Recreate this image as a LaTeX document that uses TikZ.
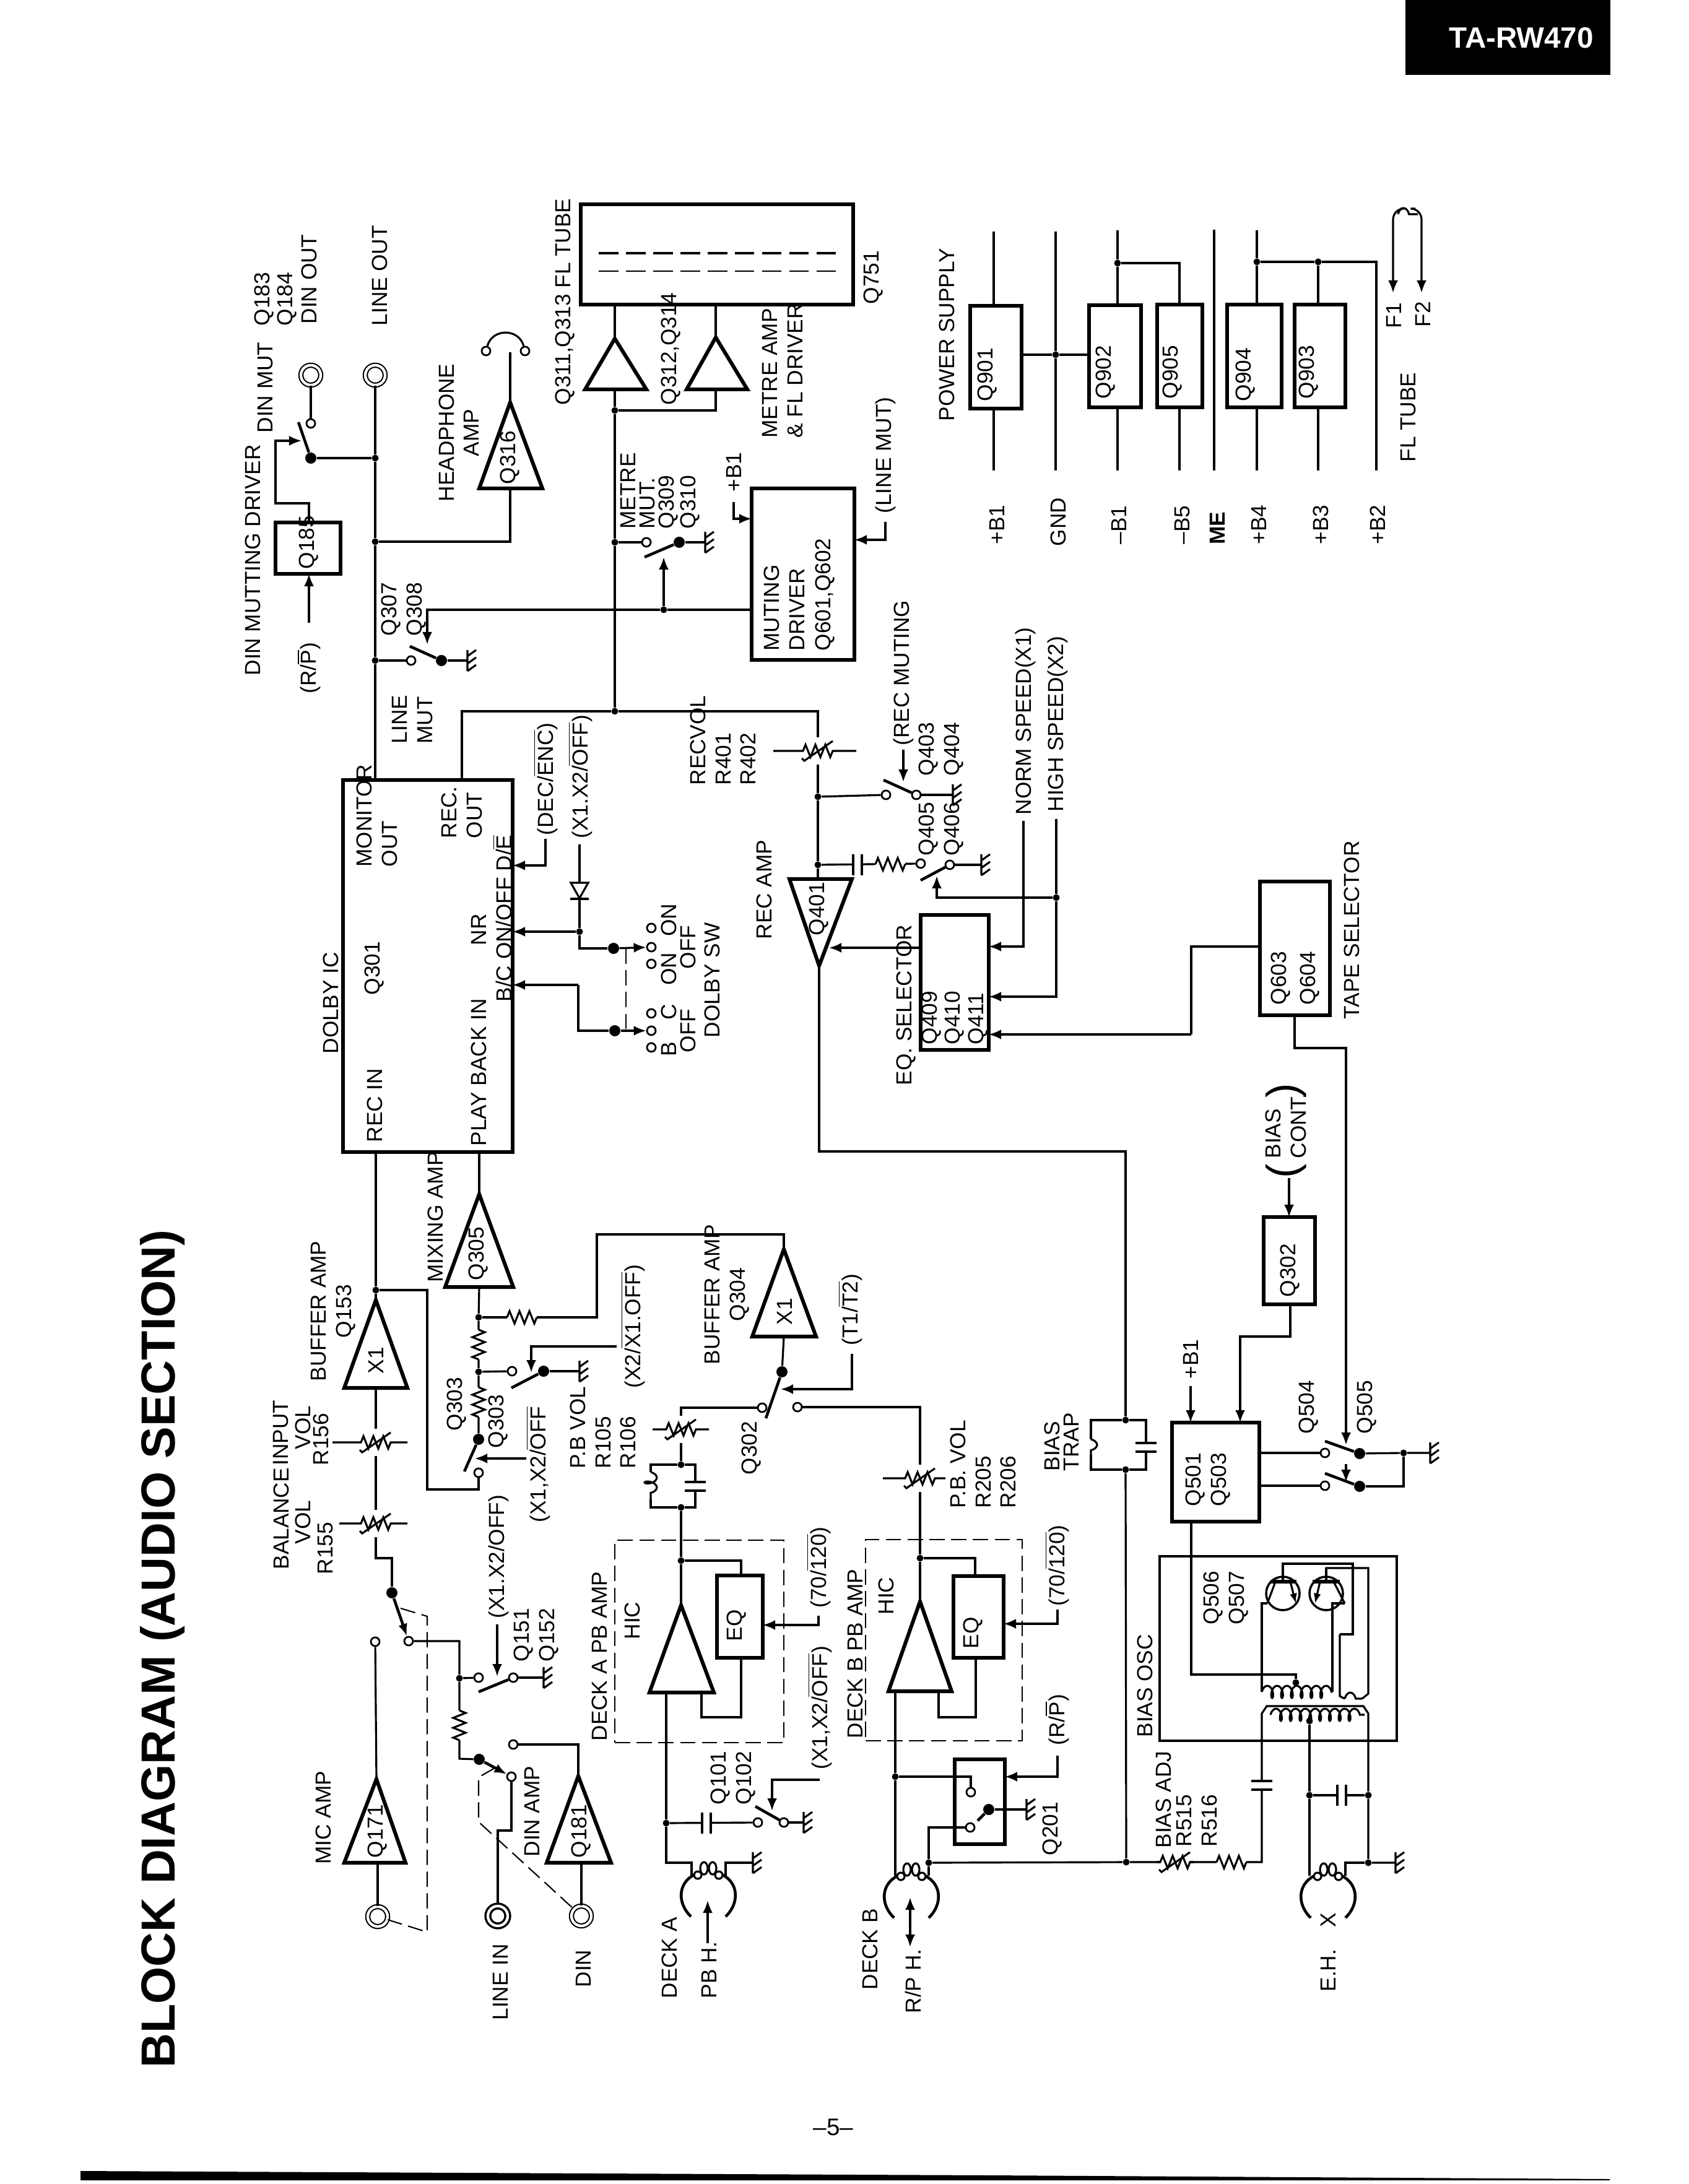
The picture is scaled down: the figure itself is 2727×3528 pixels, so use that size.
\documentclass[tikz,border=0pt]{standalone}
\usepackage{fontspec}
\setmainfont{Liberation Sans}
\usetikzlibrary{arrows.meta,fit,decorations.pathmorphing}
\newcommand{\barT}[1]{$\overline{\hbox{#1}}$}
\newcommand{\amp}[6]{\coordinate (#1) at (#2,#3); \coordinate (#1in) at (#2,#4);
  \draw[ampl] (#5,#4) -- (#2,#3) -- (#6,#4) -- cycle;}
\newcommand{\pot}[4]{\begin{scope}[shift={(#1,#2)}]
  \fill[white] (-24,-8) rectangle (24,8) (-6,-22) rectangle (6,22);
  \draw[wire] (-#3,0) -- (-24,0) -- (-20,-10) -- (-12,10) -- (-4,-10) -- (4,10) -- (12,-10) -- (20,10) -- (24,0) -- (#4,0);
  \draw[wire] (-26,12) -- (-22,16) -- (24,-16);
  \end{scope}}
\newcommand{\headsym}[3]{\begin{scope}[shift={(#2,#3)}]
  \coordinate (#1) at (0,0);
  \draw[headw] (-28,36) .. controls (-50,15) and (-50,-18) .. (-22,-32);
  \draw[headw] (28,36) .. controls (50,15) and (50,-18) .. (22,-32);
  \draw[wire] (-7,-42) ellipse (6 and 10) (7,-42) ellipse (6 and 10) (-17,-31) circle (6) (17,-31) circle (6);
  \end{scope}}

\begin{document}
\begin{tikzpicture}[x=0.01cm,y=-0.01cm,
    wire/.style={line width=0.9pt},
    armw/.style={line width=1.3pt},
    headw/.style={line width=1.3pt},
    ampl/.style={line width=1.7pt,line join=miter},
    arr/.style={wire,-{Latex[length=2mm,width=1.6mm]}},
    arrs/.style={wire,{Latex[length=2mm,width=1.6mm]}-{Latex[length=2mm,width=1.6mm]}},
    box/.style={draw,line width=1.7pt,inner sep=0pt,outer sep=0pt},
    frame/.style={draw,line width=0.9pt,inner sep=0pt,outer sep=0pt},
    hic/.style={draw,line width=0.7pt,dash pattern=on 7pt off 3pt,inner sep=0pt,outer sep=0pt},
    gang/.style={line width=0.6pt,dash pattern=on 7pt off 3pt},
    oc/.style={circle,draw,line width=0.8pt,fill=white,inner sep=0pt,minimum size=1.4mm},
    fd/.style={circle,fill=black,inner sep=0pt,minimum size=1.8mm},
    jn/.style={circle,fill=black,inner sep=0pt,minimum size=1.1mm},
    jack/.style={circle,draw,line width=0.6pt,double,double distance=1.2pt,inner sep=0pt,minimum size=3.2mm},
    tr/.style={circle,draw,line width=1pt,inner sep=0pt,minimum size=5.4mm},
    lbl/.style={rotate=90,anchor=west,inner sep=0pt,align=left,font=\fontsize{10}{11.5}\selectfont},
    lblc/.style={lbl,align=center},
    mid/.style={lbl,anchor=center},
    tight/.style={lbl,font=\fontsize{10}{8.8}\selectfont},
    coilw/.style={wire,decorate,decoration={coil,aspect=0.5,segment length=4.5pt,amplitude=2.8pt}},
    gndsym/.pic={\draw[wire] (0,-17) -- (0,17) (0,-7) -- (14,-17) (0,5) -- (14,-5) (0,17) -- (14,7);},
    ressym/.pic={\fill[white] (-24,-6) rectangle (24,6);
      \draw[wire] (-24,0) -- (-20,-10) -- (-12,10) -- (-4,-10) -- (4,10) -- (12,-10) -- (20,10) -- (24,0);},
    capsym/.pic={\fill[white] (-7,-17) rectangle (7,17);
      \draw[armw] (-7,-17) -- (-7,17) (7,-17) -- (7,17);}
]
\useasboundingbox (0,0) rectangle (2727,3528);

% Page furniture
\node[fill=black,inner sep=0pt,fit={(2270,0) (2601,121)}] (tagBox) {};
\node[text=white,font=\fontsize{13.5}{16}\selectfont\bfseries] (tag) at (2457,61) {TA-RW470};
\node[lbl,font=\fontsize{22}{26}\selectfont\bfseries] (title) at (262,3341) {BLOCK DIAGRAM (AUDIO SECTION)};
\node[font=\fontsize{11}{13}\selectfont] (page) at (1346,3436) {--5--};
\fill (130,3507) -- (1600,3514) -- (2600,3520) -- (2600,3522) -- (130,3522) -- cycle;

% Boxes
\node[box,fit={(938,330) (1378,492)}] (Q751) {};
\node[box,fit={(1214,789) (1380,1066)}] (Q601) {};
\node[box,fit={(445,844) (550,927)}] (Q185) {};
\node[box,fit={(554,1260) (828,1861)}] (Q301) {};
\node[box,fit={(1487,1478) (1597,1696)}] (Q409) {};
\node[box,fit={(2035,1424) (2148,1640)}] (Q603) {};
\node[box,fit={(2041,1966) (2124,2107)}] (Q302b) {};
\node[box,fit={(1893,2298) (2034,2458)}] (Q501) {};
\node[box,fit={(1158,2545) (1232,2678)}] (EQa) {};
\node[box,fit={(1540,2546) (1621,2678)}] (EQb) {};
\node[box,fit={(1542,2842) (1623,2979)}] (Q201) {};
\node[box,fit={(1567,494) (1650,660)}] (Q901) {};
\node[box,fit={(1759,493) (1843,658)}] (Q902) {};
\node[box,fit={(1869,492) (1942,658)}] (Q905) {};
\node[box,fit={(1982,492) (2070,658)}] (Q904) {};
\node[box,fit={(2091,492) (2173,658)}] (Q903) {};
\node[hic,fit={(993,2488) (1266,2815)}] (hicA) {};
\node[hic,fit={(1398,2487) (1651,2812)}] (hicB) {};
\node[frame,fit={(1873,2514) (2256,2812)}] (osc) {};

% Metre and FL tube
\draw[line width=1.1pt,dash pattern=on 9pt off 3.5pt] (967,409) -- (1357,409);
\draw[line width=0.8pt,dash pattern=on 9pt off 3.5pt] (967,438) -- (1357,438);
\amp{Q311}{993}{547}{629}{945}{1044}
\amp{Q312}{1156}{545}{629}{1109}{1207}
\node[jn] (jM1) at (993,663) {};
\node[jn] (jM2) at (993,876) {};
\node[jn] (jM3) at (993,1149) {};
\node[oc] (swM1) at (1044,876) {};
\node[fd] (swM2) at (1097,876) {};
\node[jn] (jMd) at (1072,985) {};
\coordinate (gM) at (1139,876);
\draw[wire] (Q311) -- (Q311 |- Q751.south);
\draw[wire] (Q312) -- (Q312 |- Q751.south);
\draw[wire] (Q311in) -- (jM1) -- (jM2) -- (jM3);
\draw[wire] (jM1) -| (Q312in);
\draw[wire] (jM2) -- (swM1);
\draw[wire] (swM2) -- (gM);
\draw[armw] (swM2) -- (1041,900) coordinate (armM);
\pic at (gM) {gndsym};
\draw[wire] (jMd -| Q601.west) -- (jMd);
\draw[arr] (jMd) -- (jMd |- armM);
\draw[arr] (jMd) -- (690,985) -- (690,1041);
\draw[arr] (1185,811) -- (1185,838) -- (1185,838 -| Q601.west);
\draw[arr] (1430,843) -- (1430,872) -- (1430,872 -| Q601.east);

% Line out, din out, headphone
\node[jack] (jkDin) at (502,606) {};
\node[jack] (jkLine) at (606,606) {};
\node[oc] (swD1) at (502,684) {};
\node[fd] (swD2) at (502,740) {};
\node[jn] (jL1) at (606,740) {};
\node[jn] (jL2) at (606,875) {};
\node[jn] (jL3) at (606,1067) {};
\node[oc] (swL1) at (664,1067) {};
\node[fd] (swL2) at (713,1067) {};
\node[oc] (hpL) at (785,567) {};
\node[oc] (hpR) at (848,567) {};
\coordinate (gL) at (755,1067);
\coordinate (cRP) at (499,1006);
\coordinate (hpM) at (824,569);
\amp{Q316}{824}{650}{789}{774}{876}
\draw[wire] (jkDin) -- (swD1);
\draw[wire] (swD2) -- (jL1);
\draw[armw] (swD2) -- (482,682);
\draw[arr] (499,0 |- Q185.north) -- (499,813) -- (445,813) -- (445,712) -- (487,712);
\draw[arr] (cRP) -- (cRP |- Q185.south);
\draw[wire] (jkLine) -- (jL1) -- (jL2) -- (jL3) -- (jL3 |- Q301.north);
\draw[wire] (jL2) -| (Q316in);
\draw[wire] (Q316) -- (hpM);
\draw[wire] (hpL) .. controls (795,530) and (838,530) .. (hpR);
\draw[wire] (jL3) -- (swL1);
\draw[wire] (swL2) -- (gL);
\draw[armw] (swL2) -- (662,1044);
\pic at (gL) {gndsym};

% Rec out, rec amp, eq selector
\node[jn] (jR1) at (1321,1287) {};
\node[jn] (jR2) at (1321,1397) {};
\node[oc] (swR1) at (1431,1284) {};
\node[oc] (swR2) at (1480,1284) {};
\node[oc] (swS1) at (1487,1395) {};
\node[oc] (swS2) at (1534,1397) {};
\node[jn] (jHs) at (1706,1450) {};
\coordinate (gR) at (1539,1284);
\coordinate (gS) at (1585,1397);
\amp{Q401}{1323}{1560}{1420}{1275}{1376}
\draw[wire] (746,0 |- Q301.north) -- (746,1149) -- (jM3);
\draw[wire] (jM3) -- (1321,1149) -- (jR1) -- (jR2) -- (1321,1420);
\draw[wire] (jR1) -- (swR1);
\draw[wire] (swR2) -- (gR);
\draw[armw] (swR2) -- (1427,1260);
\draw[arr] (1459,1211) -- (1459,1263);
\pic at (gR) {gndsym};
\draw[wire] (jR2) -- (swS1);
\draw[wire] (swS2) -- (gS);
\draw[armw] (swS2) -- (1487,1422);
\pic at (gS) {gndsym};
\pic at (1385,1397) {capsym};
\pic at (1438,1396) {ressym};
\pot{1321}{1213}{72}{62}
\draw[arr] (jHs) -- (1513,1450) -- (1513,1415);
\draw[arr] (1653,1326) -- (1653,1529) -- (1653,1529 -| Q409.east);
\draw[arr] (jHs |- 0,1323) -- (jHs) -- (1706,1610) -- (1706,1610 -| Q409.east);
\draw[arr] (Q409.west |- 0,1531) -- (1339,1531);
\draw[wire] (Q603.west |- 0,1529) -- (1924,1529) -- (1924,1671);
\draw[arr] (1924,1671) -- (1924,1671 -| Q409.east);
\draw[arr] (2091,0 |- Q603.south) -- (2091,1693) -- (2174,1693) -- (2174,2334);
\draw[arr] (2174,2365) -- (2174,2394);

% Dolby inputs and switch
\node[jn] (jD1) at (936,1505) {};
\node[fd] (swB1) at (991,1532) {};
\node[fd] (swB2) at (993,1665) {};
\node[oc] (oA1) at (1052,1499) {};
\node[oc] (oA2) at (1052,1530) {};
\node[oc] (oA3) at (1052,1557) {};
\node[oc] (oB1) at (1052,1637) {};
\node[oc] (oB2) at (1052,1665) {};
\node[oc] (oB3) at (1052,1692) {};
\draw[arr] (881,1355) -- (881,1398) -- (881,1398 -| Q301.east);
\draw[wire] (936,1364) -- (jD1);
\draw[wire,fill=white] (922,1426) -- (950,1426) -- (936,1451) -- cycle;
\draw[armw] (921,1452) -- (951,1452);
\draw[arr] (jD1) -- (jD1 -| Q301.east);
\draw[wire] (jD1) |- (swB1);
\draw[arr] (swB1) -- (oA2);
\draw[arr] (934,1591) -- (934,1591 -| Q301.east);
\draw[wire] (934,1591) -- (934,1665) -- (swB2);
\draw[arr] (swB2) -- (oB2);
\draw[gang] (1011,1532) -- (1011,1665);

% Rec in, buffer and mixing amps
\amp{Q153}{607}{2100}{2242}{556}{658}
\amp{Q305}{774}{1929}{2079}{719}{829}
\amp{Q304}{1266}{2018}{2159}{1215}{1318}
\node[jn] (jI1) at (607,2084) {};
\node[jn] (jX1) at (773,2128) {};
\node[jn] (jX2) at (773,2216) {};
\node[fd] (swX1) at (773,2325) {};
\node[oc] (swX2) at (773,2379) {};
\node[oc] (swY1) at (827,2215) {};
\node[fd] (swY2) at (878,2215) {};
\node[fd] (swZ1) at (1263,2216) {};
\node[oc] (swZ2) at (1231,2274) {};
\node[oc] (swZ3) at (1288,2273) {};
\coordinate (gY) at (936,2215);
\draw[wire] (jI1 |- Q301.south) -- (jI1) -- (Q153);
\draw[wire] (jI1) -- (690,2084) -- (690,2406) -- (773,2406) -- (swX2);
\draw[line width=1.3pt] (Q305) -- (Q305 |- Q301.south);
\draw[wire] (Q305in) -- (jX1) -- (jX2) -- (swX1);
\draw[armw] (swX1) -- (750,2377);
\draw[arr] (850,2356) -- (767,2356);
\draw[wire] (jX1) -- (964,2128) -- (964,1994) -- (1266,1994) -- (Q304);
\draw[wire] (jX2) -- (swY1);
\draw[wire] (swY2) -- (gY);
\draw[armw] (swY2) -- (826,2242);
\draw[arr] (996,2175) -- (858,2175) -- (858,2217);
\pic at (gY) {gndsym};
\pic[rotate=90] at (773,2172) {ressym};
\pic[rotate=90] at (773,2265) {ressym};
\pic at (843,2128) {ressym};
\draw[wire] (Q304in) -- (swZ1);
\draw[armw] (swZ1) -- (1237,2291);
\draw[arr] (1376,2187) -- (1376,2244) -- (1261,2244);

% Mic, line, din inputs
\amp{Q171}{608}{2874}{3009}{556}{655}
\amp{Q181}{934}{2869}{3009}{883}{987}
\node[jack] (jkMic) at (610,3096) {};
\node[jack,line width=1pt] (jkIn) at (804,3095) {};
\node[jack] (jkDi) at (939,3095) {};
\node[fd] (swI1) at (633,2573) {};
\node[oc] (swI2) at (660,2651) {};
\node[oc] (swI3) at (606,2652) {};
\node[jn] (jN1) at (742,2711) {};
\node[oc] (swN1) at (773,2710) {};
\node[oc] (swN2) at (829,2710) {};
\node[fd] (swO1) at (774,2842) {};
\node[oc] (swO2) at (826,2870) {};
\node[oc] (swO3) at (829,2818) {};
\coordinate (gN) at (878,2710);
\draw[wire] (Q153in) -- (607,2517) -- (633,2517) -- (swI1);
\draw[armw,-{Latex[length=2mm,width=1.5mm]}] (swI1) -- (swI2);
\draw[wire] (swI3) -- (Q171);
\draw[wire] (Q171in -| jkMic) -- (jkMic);
\draw[wire] (swI2) -- (742,2651) -- (jN1) -- (742,2841) -- (swO1);
\draw[wire] (jN1) -- (swN1);
\draw[wire] (swN2) -- (gN);
\draw[armw] (swN2) -- (773,2733);
\draw[arr] (803,2624) -- (803,2708);
\pic at (gN) {gndsym};
\pic[rotate=90] at (742,2787) {ressym};
\draw[armw,-{Latex[length=2mm,width=1.5mm]}] (swO1) -- (swO2);
\draw[wire] (swO3) -- (934,2818) -- (Q181);
\draw[wire] (Q181in -| jkDi) -- (jkDi);
\draw[wire] (swO2) -- (826,2957) -- (804,2957) -- (jkIn);
\draw[gang] (647,2598) -- (690,2611) -- (690,3121) -- (jkMic);
\draw[gang] (799,2856) -- (773,2871) -- (773,2943) -- (jkDi);
\pot{607}{2330}{70}{51}
\pot{607}{2461}{59}{51}

% Deck A
\amp{Qa}{1100}{2593}{2734}{1049}{1153}
\headsym{hA}{1144}{3060}
\node[jn] (jA1) at (1100,2366) {};
\node[jn] (jA2) at (1100,2435) {};
\node[jn] (jA3) at (1100,2521) {};
\node[jn] (jA4) at (1076,2945) {};
\node[oc] (swA1) at (1224,2944) {};
\node[oc] (swA2) at (1266,2944) {};
\coordinate (gA) at (1298,2944);
\coordinate (gAh) at (1216,3009);
\coordinate (cPb) at (1143,3139);
\draw[wire] (swZ2) -- (1100,2274) -- (jA1);
\draw[wire] (jA1) -- (1051,2366) -- (1051,2378);
\draw[coilw] (1051,2378) -- (1051,2422);
\draw[wire] (1051,2422) -- (1051,2435) -- (jA2);
\draw[wire] (jA1) -- (1123,2366) -- (1123,2435) -- (jA2);
\draw[wire] (jA2) -- (jA3) -- (Qa);
\draw[wire] (jA3) -- (1197,2521) -- (1197,2521 |- EQa.north);
\draw[wire] (1197,0 |- EQa.south) -- (1197,2774) -- (1133,2774) -- (1133,2734);
\draw[wire] (1076,2734) -- (jA4) -- (1076,3009) -- (1117,3009) -- (1117,3030);
\draw[wire] (1172,3030) -- (1172,3009) -- (gAh);
\pic at (gAh) {gndsym};
\draw[wire] (jA4) -- (swA1);
\draw[wire] (swA2) -- (gA);
\draw[armw] (swA2) -- (1220,2918);
\draw[arr] (1324,2875) -- (1247,2875) -- (1247,2925);
\pic at (gA) {gndsym};
\pic at (1141,2945) {capsym};
\pic[rotate=90] at (1123,2401) {capsym};
\draw[arr] (1322,2610) -- (1322,2625) -- (1322,2625 -| EQa.east);
\draw[arr] (cPb) -- (1143,3070);
\pot{1100}{2309}{46}{45}

% Deck B
\amp{Qb}{1486}{2587}{2732}{1435}{1537}
\headsym{hB}{1472}{3062}
\node[jn] (jB1) at (1486,2517) {};
\node[jn] (jB2) at (1446,2870) {};
\node[oc] (swB3) at (1568,2895) {};
\node[oc] (swB4) at (1567,2952) {};
\node[fd] (swB5) at (1597,2923) {};
\node[jn] (jB3) at (1500,3009) {};
\node[jn] (jB4) at (1819,3008) {};
\coordinate (gB) at (1658,2923);
\draw[wire] (swZ3) -- (1486,2273) -- (jB1) -- (Qb);
\draw[wire] (jB1) -- (1575,2517) -- (1575,2517 |- EQb.north);
\draw[wire] (1576,0 |- EQb.south) -- (1576,2774) -- (1516,2774) -- (1516,2732);
\draw[wire] (1446,2732) -- (jB2) -- (1446,3030);
\draw[wire] (jB2) -- (1568,2870) -- (swB3);
\draw[wire] (swB4) -- (1500,2952) -- (jB3) -- (1500,3030);
\draw[armw] (swB5) -- (1579,2941);
\draw[wire] (swB5) -- (gB);
\pic at (gB) {gndsym};
\draw[arr] (1708,2600) -- (1708,2623) -- (1708,2623 -| EQb.east);
\draw[arr] (1708,2836) -- (1708,2870) -- (1708,2870 -| Q201.east);
\draw[arrs] (1470,3065) -- (1470,3145);
\pot{1486}{2388}{60}{41}

% Bias trap, bias osc, erase head
\node[jn] (jT1) at (1818,2294) {};
\node[jn] (jT2) at (1818,2374) {};
\node[oc] (swQ1) at (2140,2347) {};
\node[fd] (swQ2) at (2196,2348) {};
\node[oc] (swQ3) at (2140,2400) {};
\node[fd] (swQ4) at (2196,2401) {};
\node[jn] (jQ1) at (2267,2347) {};
\node[jn] (jH1) at (2115,2780) {};
\node[jn] (jH2) at (2115,2900) {};
\node[jn] (jH3) at (2210,2900) {};
\node[jn] (jH4) at (2210,3009) {};
\node[jn] (jH5) at (2093,2718) {};
\node[tr] (Q506) at (2072,2574) {};
\node[tr] (Q507) at (2142,2574) {};
\coordinate (gQ) at (2310,2347);
\coordinate (gH) at (2254,3009);
\headsym{hE}{2145}{3062}
\draw[wire] (Q401) -- (1323,1860) -- (1818,1860) -- (jT1);
\draw[wire] (jT1) -- (1762,2294) -- (1762,2325);
\draw[coilw] (1762,2325) -- (1762,2350);
\draw[wire] (1762,2350) -- (1762,2374) -- (jT2);
\draw[wire] (jT1) -- (1851,2294) -- (1851,2374) -- (jT2);
\pic[rotate=90] at (1851,2338) {capsym};
\draw[wire] (jT2) -- (jB4);
\draw[wire] (jB3) -- (jB4) -- (2038,3008) -- (2038,2768) -- (2046,2756) -- (2202,2756) -- (2210,2768) -- (jH3) -- (jH4) -- (gH);
\pic at (gH) {gndsym};
\draw[wire] (jH4) -- (2173,3009) -- (2173,3030);
\draw[wire] (jH1) -- (jH2) -- (2115,3030);
\draw[wire] (jH2) -- (jH3);
\pic at (2167,2900) {capsym};
\pic[rotate=90] at (2038,2884) {capsym};
\pic at (1989,3008) {ressym};
\pot{1898}{3008}{30}{30}
\draw[arr] (2082,1903) -- (2082,1903 |- Q302b.north);
\draw[arr] (2084,0 |- Q302b.south) -- (2084,2159) -- (2003,2159) -- (2003,2003 |- Q501.north);
\draw[arr] (1923,2239) -- (1923,2239 |- Q501.north);
\draw[wire] (swQ1 -| Q501.east) -- (swQ1);
\draw[wire] (swQ3 -| Q501.east) -- (swQ3);
\draw[armw] (swQ2) -- (2140,2328);
\draw[armw] (swQ4) -- (2140,2380);
\draw[wire] (swQ2) -- (jQ1) -- (gQ);
\draw[wire] (swQ4) -- (2267,2401) -- (jQ1);
\pic at (gQ) {gndsym};
\draw[wire] (1924,0 |- Q501.south) -- (1924,2705) -- (2093,2705) -- (jH5);
% oscillator windings
\draw[wire] (2047,2590) -- (2038,2590) -- (2038,2733);
\draw[coilw] (2038,2733) -- (2152,2733);
\draw[wire] (2152,2733) -- (2152,2590) -- (2172,2590);
\draw[wire] (2164,2640) -- (2164,2740) -- (2172,2744);
\draw[coilw] (2172,2744) -- (2200,2744);
\draw[wire] (2200,2744) -- (2210,2736) -- (2210,2533) -- (2142,2533) -- (Q507);
\draw[wire] (Q506) -- (2072,2526) -- (2185,2526) -- (2185,2640) -- (2164,2640);
\draw[coilw] (2052,2770) -- (2204,2770);
\draw[line width=1.5pt] (2052,2555) -- (2094,2555) (2120,2555) -- (2164,2555);
\draw[wire] (2072,2526) -- (2072,2555) (2142,2533) -- (2142,2555);
\draw[wire] (2060,2555) -- (2047,2590);
\draw[wire,-{Latex[length=1.6mm,width=1.2mm]}] (2084,2555) -- (2093,2590);
\draw[wire,-{Latex[length=1.6mm,width=1.2mm]}] (2132,2555) -- (2124,2590);
\draw[wire] (2154,2555) -- (2172,2590);

% Power supply
\node[jn] (jP1) at (1705,573) {};
\node[jn] (jP2) at (1805,425) {};
\node[jn] (jP3) at (2030,423) {};
\node[jn] (jP4) at (2129,423) {};
\coordinate (cF1) at (2250,473);
\coordinate (cF2) at (2296,473);
\draw[wire] (1605,374) -- (1605,374 |- Q901.north);
\draw[wire] (1605,0 |- Q901.south) -- (1605,760);
\draw[wire] (1705,374) -- (jP1) -- (1705,760);
\draw[wire] (Q901.east |- jP1) -- (jP1) -- (Q902.west |- jP1);
\draw[wire] (1805,372) -- (jP2) -- (jP2 |- Q902.north);
\draw[wire] (jP2 |- Q902.south) -- (1805,760);
\draw[wire] (jP2) -- (1905,425) -- (1905,425 |- Q905.north);
\draw[wire] (1905,0 |- Q905.south) -- (1905,760);
\draw[wire] (1961,371) -- (1961,760);
\draw[wire] (2030,372) -- (jP3) -- (jP3 |- Q904.north);
\draw[wire] (jP3 |- Q904.south) -- (2030,760);
\draw[wire] (jP3) -- (jP4) -- (2223,423) -- (2223,760);
\draw[wire] (jP4) -- (jP4 |- Q903.north);
\draw[wire] (jP4 |- Q903.south) -- (2129,760);
\draw[arr,rounded corners=5pt] (2262,337) -- (2250,337) -- (cF1);
\draw[arr,rounded corners=5pt] (2286,337) -- (2296,337) -- (cF2);
\draw[coilw] (2258,346) -- (2290,346);

% Labels, metre side
\node[lbl] (tDinDrv) at (408,1092) {DIN MUTTING DRIVER};
\node[lbl] (tRP1) at (499,1121) {(R/\barT{P})};
\node[lbl] (tQ185) at (499,920) {Q185};
\node[lbl] (tDinMut) at (429,700) {DIN MUT};
\node[lbl] (tQ183) at (427,527) {Q183};
\node[lbl] (tQ184) at (464,527) {Q184};
\node[lbl] (tDinOut) at (499,524) {DIN OUT};
\node[lbl] (tLineOut) at (613,527) {LINE OUT};
\node[lbl] (tQ307) at (652,1028) {Q307\\Q308};
\node[lbl] (tLineMut) at (666,1202) {LINE\\MUT};
\node[lblc] (tHead) at (741,811) {HEADPHONE\\AMP};
\node[lbl] (tQ316) at (824,783) {Q316};
\node[lbl] (tFl) at (913,655) {Q311,Q313 FL TUBE};
\node[lbl] (tQ312) at (1084,655) {Q312,Q314};
\node[lbl] (tMetre) at (1264,708) {METRE AMP\\\& FL DRIVER};
\node[lbl] (tQ751) at (1411,492) {Q751};
\node[lbl] (tLMut) at (1430,830) {(LINE MUT)};
\node[tight] (tMMut) at (1066,855) {METRE\\MUT.\\Q309\\Q310};
\node[lbl] (tB1a) at (1185,795) {+B1};
\node[lbl,font=\fontsize{10}{11.8}\selectfont] (tMuting) at (1291,1052) {MUTING\\DRIVER\\Q601,Q602};

% Labels, dolby
\node[lbl] (tDolby) at (534,1703) {DOLBY IC};
\node[lbl] (tQ301) at (605,1608) {Q301};
\node[lbl] (tRecIn) at (605,1846) {REC IN};
\node[lbl] (tPlay) at (773,1852) {PLAY BACK IN};
\node[lbl] (tMon) at (609,1401) {MONITOR\\OUT};
\node[lbl] (tRecOut) at (746,1355) {REC.\\OUT};
\node[lbl] (tNr) at (773,1528) {NR};
\node[lbl] (tBc) at (811,1619) {B/C ON/OFF D/\barT{E}};
\node[lbl] (tDec) at (881,1350) {(DEC/\barT{ENC})};
\node[lbl] (tX1a) at (937,1355) {(X1.X2/\barT{OFF})};
\node[mid] (tB) at (1080,1695) {B};
\node[mid] (tC) at (1080,1635) {C};
\node[mid] (tOn1) at (1080,1565) {ON};
\node[mid] (tOn2) at (1080,1486) {ON};
\node[mid] (tOff1) at (1111,1665) {OFF};
\node[mid] (tOff2) at (1111,1530) {OFF};
\node[lbl] (tDolbySw) at (1150,1677) {DOLBY SW};
\node[lbl] (tRecVol) at (1168,1269) {RECVOL\\R401\\R402};
\node[lbl] (tRecAmp) at (1234,1518) {REC AMP};
\node[lbl] (tQ401) at (1323,1512) {Q401};
\node[lbl] (tRecMut) at (1459,1205) {(REC MUTING};
\node[lbl] (tQ403) at (1520,1254) {Q403\\Q404};
\node[lbl] (tQ405) at (1520,1383) {Q405\\Q406};
\node[lbl] (tEq) at (1464,1754) {EQ. SELECTOR};
\node[lbl,font=\fontsize{10}{10.8}\selectfont] (tQ409) at (1542,1688) {Q409\\Q410\\Q411};
\node[lbl] (tNorm) at (1656,1317) {NORM SPEED(X1)};
\node[lbl] (tHigh) at (1708,1312) {HIGH SPEED(X2)};
\node[lbl,font=\fontsize{10}{13.6}\selectfont] (tQ603) at (2092,1624) {Q603\\Q604};
\node[lbl] (tTape) at (2183,1647) {TAPE SELECTOR};

% Labels, left inputs
\node[lblc] (tBuf1) at (538,2232) {BUFFER AMP\\Q153};
\node[lbl] (tX1b) at (607,2220) {X1};
\node[lbl] (tMixing) at (703,2072) {MIXING AMP};
\node[lbl] (tQ305) at (773,2069) {Q305};
\node[lbl] (tBal) at (454,2536) {BALANCE};
\node[lbl] (tInput) at (454,2368) {INPUT};
\node[lbl] (tVol2) at (489,2342) {VOL};
\node[lbl] (tR156) at (518,2368) {R156};
\node[lbl] (tVol1) at (489,2495) {VOL};
\node[lbl] (tR155) at (526,2544) {R155};
\node[lbl] (tQ303a) at (738,2312) {Q303};
\node[lbl] (tQ303b) at (805,2340) {Q303};
\node[lbl] (tX1c) at (869,2460) {(X1,X2/\barT{OFF}};
\node[lbl] (tX2) at (1022,2243) {(X2/\barT{X1.OFF})};
\node[lbl] (tPbVol) at (974,2373) {P.B VOL\\R105\\R106};
\node[lblc] (tBuf2) at (1174,2205) {BUFFER AMP\\Q304};
\node[lbl] (tX1d) at (1267,2141) {X1};
\node[lbl] (tT1) at (1373,2174) {(T1/\barT{T2})};
\node[lbl] (tQ302a) at (1214,2383) {Q302};
\node[lbl] (tX1e) at (805,2615) {(X1.X2/OFF)};
\node[lbl] (tQ151) at (866,2685) {Q151\\Q152};
\node[lbl] (tMicAmp) at (522,3012) {MIC AMP};
\node[lbl] (tQ171) at (610,3002) {Q171};
\node[lbl] (tDinAmp) at (859,3000) {DIN AMP};
\node[lbl] (tQ181) at (939,3002) {Q181};
\node[lbl] (tLineIn) at (808,3264) {LINE IN};
\node[lbl] (tDin) at (942,3211) {DIN};

% Labels, decks
\node[lbl] (tDeckA) at (968,2813) {DECK A PB AMP};
\node[lbl] (tHicA) at (1021,2649) {HIC};
\node[lbl] (tEqA) at (1190,2652) {EQ};
\node[lbl] (t70a) at (1322,2598) {(70/\barT{120})};
\node[lbl] (tX1f) at (1324,2859) {(X1,X2/\barT{OFF})};
\node[lbl] (tQ101) at (1184,2916) {Q101\\Q102};
\node[lbl] (tDkA) at (1081,3229) {DECK A};
\node[lbl] (tPbH) at (1145,3229) {PB H.};
\node[lbl] (tDeckB) at (1381,2809) {DECK B PB AMP};
\node[lbl] (tHicB) at (1431,2609) {HIC};
\node[lbl] (tEqB) at (1572,2664) {EQ};
\node[lbl] (tPbV2) at (1588,2437) {P.B. VOL\\R205\\R206};
\node[lbl] (t70b) at (1707,2595) {(70/\barT{120})};
\node[lbl] (tRP2) at (1707,2820) {(R/\barT{P})};
\node[lbl] (tQ201) at (1700,2998) {Q201};
\node[lbl] (tDkB) at (1405,3215) {DECK B};
\node[lbl] (tRpH) at (1475,3253) {R/P H.};

% Labels, bias
\node[tight] (tTrap) at (1715,2377) {BIAS\\TRAP};
\node[lbl] (tB1b) at (1923,2228) {+B1};
\node[lbl] (tQ501) at (1951,2434) {Q501\\Q503};
\node[lbl] (tQ302b) at (2084,2096) {Q302};
\node[lbl] (tBias) at (2077,1872) {BIAS\\CONT.};
\node[mid,font=\fontsize{20}{22}\selectfont] (tParL) at (2077,1892) {(};
\node[mid,font=\fontsize{20}{22}\selectfont] (tParR) at (2077,1762) {)};
\node[lbl] (tQ504) at (2114,2317) {Q504};
\node[lbl] (tQ505) at (2208,2317) {Q505};
\node[lbl] (tOsc) at (1849,2807) {BIAS OSC};
\node[lbl] (tAdj) at (1879,2986) {BIAS ADJ};
\node[lbl] (tR515) at (1933,2984) {R515\\R516};
\node[lbl] (tQ506) at (1980,2625) {Q506\\Q507};
\node[mid] (tX) at (2145,3102) {X};
\node[lbl] (tEh) at (2145,3218) {E.H.};

% Labels, power supply
\node[lbl] (tPower) at (1529,681) {POWER SUPPLY};
\node[lbl] (tQ901) at (1595,649) {Q901};
\node[lbl] (tQ902) at (1786,645) {Q902};
\node[lbl] (tQ905) at (1894,645) {Q905};
\node[lbl] (tQ904) at (2012,649) {Q904};
\node[lbl] (tQ903) at (2114,645) {Q903};
\node[lbl] (tRb1) at (1610,880) {+B1};
\node[lbl] (tRgnd) at (1709,883) {GND};
\node[lbl] (tRm1) at (1807,880) {--B1};
\node[lbl] (tRm5) at (1910,880) {--B5};
\node[lbl] (tRme) at (1966,880) {\bfseries ME};
\node[lbl] (tRb4) at (2033,880) {+B4};
\node[lbl] (tRb3) at (2133,880) {+B3};
\node[lbl] (tRb2) at (2225,880) {+B2};
\node[lbl] (tFlT) at (2275,747) {FL TUBE};
\node[lbl] (tF1) at (2251,531) {F1};
\node[lbl] (tF2) at (2298,529) {F2};
\end{tikzpicture}
\end{document}
